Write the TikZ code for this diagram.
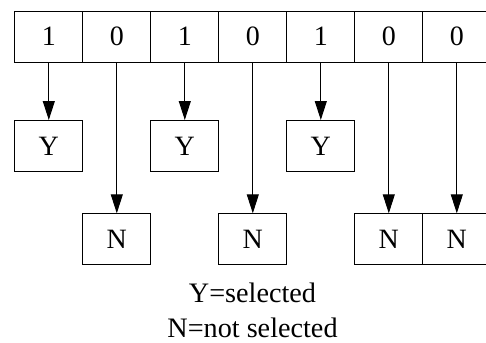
\documentclass[tikz,border=0pt]{standalone}
\usepackage{fontspec}
\setmainfont{Liberation Serif}
\usetikzlibrary{arrows.meta}
\begin{document}
\begin{tikzpicture}[x=1pt,y=-1pt,
  cell/.style={draw, line width=1pt, minimum width=68pt, minimum height=51pt, inner sep=0pt, anchor=north west, font=\fontsize{28}{30}\selectfont},
  arr/.style={-{Triangle[length=19pt,width=12pt]}, line width=1pt},
  legend/.style={font=\fontsize{28.2}{30}\selectfont, inner sep=0pt, anchor=base}]
\useasboundingbox (0,0) rectangle (486,342);
% top row
\node[cell] (c0) at (14.3,10.7) {1};
\node[cell] (c1) at (82.3,10.7) {0};
\node[cell] (c2) at (150.3,10.7) {1};
\node[cell] (c3) at (218.3,10.7) {0};
\node[cell] (c4) at (286.3,10.7) {1};
\node[cell] (c5) at (354.3,10.7) {0};
\node[cell] (c6) at (422.3,10.7) {0};
% selected
\node[cell] (y0) at (14.3,120) {Y};
\node[cell] (y2) at (150.3,120) {Y};
\node[cell] (y4) at (286.3,120) {Y};
% not selected
\node[cell] (n1) at (82.3,213.3) {N};
\node[cell] (n3) at (218.3,213.3) {N};
\node[cell] (n5) at (354.3,213.3) {N};
\node[cell] (n6) at (422.3,213.3) {N};
% arrows
\draw[arr] (c0.south) -- (y0.north);
\draw[arr] (c2.south) -- (y2.north);
\draw[arr] (c4.south) -- (y4.north);
\draw[arr] (c1.south) -- (n1.north);
\draw[arr] (c3.south) -- (n3.north);
\draw[arr] (c5.south) -- (n5.north);
\draw[arr] (c6.south) -- (n6.north);
% legend
\node[legend] (l1) at (252.5,302.3) {Y=selected};
\node[legend] (l2) at (252.5,337) {N=not selected};
\end{tikzpicture}
\end{document}
